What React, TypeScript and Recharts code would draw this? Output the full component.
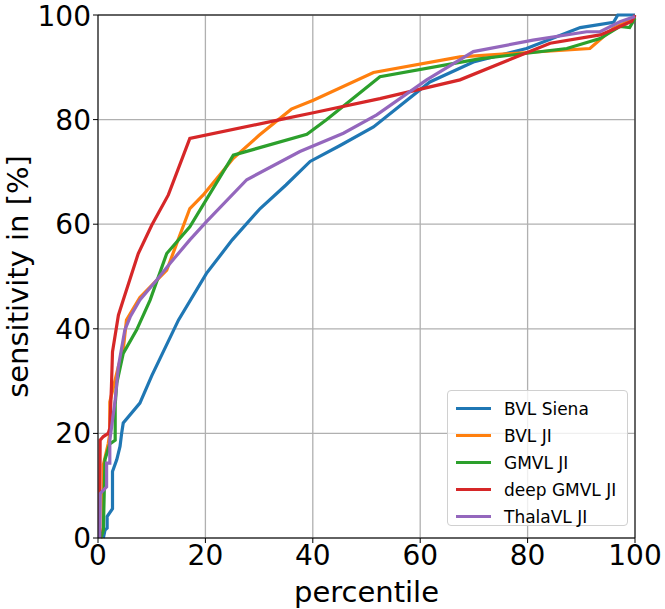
import React from "react";
import {
  LineChart,
  Line,
  XAxis,
  YAxis,
  CartesianGrid,
  Legend,
  ReferenceLine,
} from "recharts";

type Pt = { x: number; y: number };

const toPts = (arr: number[][]): Pt[] => arr.map(([x, y]) => ({ x, y }));

// values (percentile, sensitivity %)
const bvlSiena = [
  [1, 0], [1.3, 1.5], [1.7, 1.9], [1.7, 4.1], [2.7, 5.6], [2.7, 12.7],
  [3.5, 15], [4.1, 17.5], [4.4, 20], [4.7, 22], [7.8, 25.8], [10, 31],
  [15, 41.7], [20.2, 50.6], [25, 57], [30.2, 63], [35, 67.5], [39.5, 72],
  [45, 75], [51.3, 78.6], [61.8, 87.2], [69.9, 91], [79.8, 93.6],
  [89.8, 97.6], [96, 98.6], [96.8, 100], [100, 100],
];
const bvlJi = [
  [0.5, 0], [1, 2], [1, 14], [1.9, 18], [2.2, 20], [2.2, 26], [3.8, 32.8],
  [4.7, 36], [5.3, 41.7], [7.8, 46], [12.8, 51.2], [17.1, 63], [19.6, 65.6],
  [25.2, 72.6], [30, 77], [36, 82], [40.1, 83.7], [51.3, 89], [67.4, 92],
  [91.6, 93.6], [96, 97.5], [100, 99.4],
];
const gmvlJi = [
  [0.5, 0], [1, 1.5], [1.3, 15], [2.2, 18], [3.2, 18.7], [3.2, 25.5],
  [3.5, 29.6], [4.7, 35.3], [7.2, 39.8], [9.7, 45.5], [12.8, 54.4],
  [17.1, 59.5], [25.2, 73.2], [38.9, 77.2], [42.6, 80], [52.5, 88.2],
  [71, 91.6], [87.3, 93.6], [93.5, 95.5], [97.2, 97.8], [99, 97.6],
  [100, 99.4],
];
const deepGmvlJi = [
  [0.3, 0], [0.4, 18.7], [1, 19.4], [1.9, 20], [2.2, 21], [2.5, 28.9],
  [2.7, 35.6], [3.8, 42.6], [4.7, 45.5], [7.5, 54.4], [10, 59.8],
  [13.1, 65.6], [17.1, 76.4], [33.9, 80], [40.1, 81.3], [52.5, 84],
  [67.4, 87.6], [84.2, 94.6], [93.5, 96.2], [96.6, 97.5], [99.4, 98.8],
  [100, 100],
];
const thalaVlJi = [
  [0.3, 0], [0.4, 8.5], [1.6, 9.8], [1.6, 14.3], [2.2, 14.3], [2.2, 18.7],
  [3.2, 26.4], [3.8, 32.8], [5, 39.8], [6, 42.3], [7.8, 45.5], [10.9, 49.3],
  [13.4, 52.5], [17.1, 57], [20.2, 60.5], [27.7, 68.5], [37.6, 73.9],
  [45.7, 77.4], [51.9, 80.9], [61.2, 87.6], [69.9, 93], [81, 95.2],
  [91, 96.8], [93.5, 96.8], [97.2, 98.7], [100, 99.7],
];

const SERIES = [
  { name: "BVL Siena", color: "#1f77b4", data: toPts(bvlSiena) },
  { name: "BVL JI", color: "#ff7f0e", data: toPts(bvlJi) },
  { name: "GMVL JI", color: "#2ca02c", data: toPts(gmvlJi) },
  { name: "deep GMVL JI", color: "#d62728", data: toPts(deepGmvlJi) },
  { name: "ThalaVL JI", color: "#9467bd", data: toPts(thalaVlJi) },
];

const TICKS = [0, 20, 40, 60, 80, 100];
const FONT = "'DejaVu Sans', sans-serif";

const renderLegend = () => (
  <div
    style={{
      width: 181,
      height: 136,
      border: "1px solid #d0d0d0",
      borderRadius: 4,
      background: "rgba(255,255,255,0.8)",
      fontFamily: FONT,
      fontSize: 17,
      color: "#000",
      paddingTop: 4,
      boxSizing: "border-box",
    }}
  >
    {SERIES.map((s) => (
      <div
        key={s.name}
        style={{ display: "flex", alignItems: "center", height: 27 }}
      >
        <span
          style={{
            display: "inline-block",
            width: 35,
            height: 3,
            background: s.color,
            marginLeft: 8,
            marginRight: 13,
          }}
        />
        <span>{s.name}</span>
      </div>
    ))}
  </div>
);

// rotated y-axis title, baseline kept inside the page
const YTitle = ({ viewBox }: any) => {
  const cy = viewBox.y + viewBox.height / 2;
  const x = 28;
  return (
    <text
      x={x}
      y={cy}
      transform={`rotate(-90, ${x}, ${cy})`}
      textAnchor="middle"
      fontSize={29}
      fontFamily={FONT}
      fill="#000"
    >
      sensitivity in [%]
    </text>
  );
};

export default function App() {
  return (
    <div style={{ position: "absolute", left: 0, top: 0 }}>
      <LineChart
        width={665}
        height={609}
        margin={{ top: 15, right: 30, left: 0, bottom: 0 }}
      >
        <CartesianGrid stroke="#b0b0b0" strokeWidth={1.3} />
        <XAxis
          type="number"
          dataKey="x"
          domain={[0, 100]}
          ticks={TICKS}
          height={71}
          tickSize={5}
          tickMargin={2}
          stroke="#000"
          tick={{ fontSize: 28, fill: "#000", fontFamily: FONT }}
          label={{
            value: "percentile",
            position: "insideBottom",
            offset: 7,
            style: { fontSize: 29, fill: "#000", fontFamily: FONT },
          }}
          allowDuplicatedCategory={false}
        />
        <YAxis
          type="number"
          domain={[0, 100]}
          ticks={TICKS}
          width={98}
          tickSize={5}
          tickMargin={2}
          stroke="#000"
          tick={{ fontSize: 28, fill: "#000", fontFamily: FONT }}
          label={<YTitle />}
        />
        <ReferenceLine x={100} stroke="#000" strokeWidth={1} />
        <ReferenceLine y={100} stroke="#000" strokeWidth={1} />
        {SERIES.map((s) => (
          <Line
            key={s.name}
            name={s.name}
            data={s.data}
            dataKey="y"
            type="linear"
            stroke={s.color}
            strokeWidth={3.2}
            dot={false}
            isAnimationActive={false}
          />
        ))}
        <Legend
          layout="vertical"
          align="center"
          verticalAlign="middle"
          content={renderLegend}
          wrapperStyle={{ left: 447, top: 390, width: 183, height: 138 }}
        />
      </LineChart>
    </div>
  );
}
